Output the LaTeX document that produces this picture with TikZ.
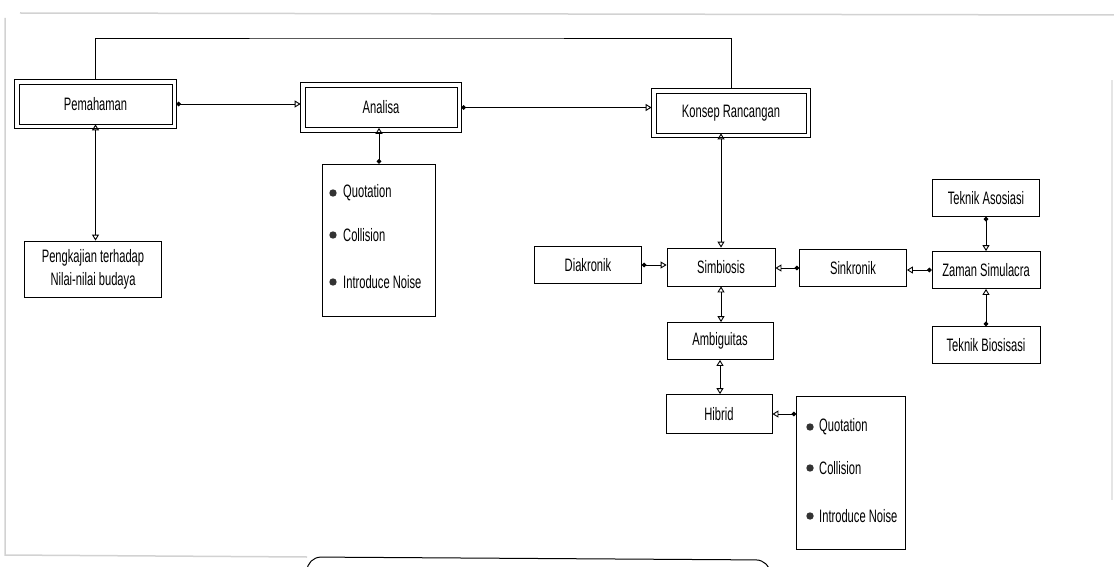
\documentclass[tikz,border=0pt]{standalone}
\usepackage{fontspec}
\setmainfont{Liberation Sans}[FakeStretch=0.62]
\usetikzlibrary{arrows.meta}

\begin{document}
\begin{tikzpicture}[x=1pt, y=-1pt, font=\fontsize{18}{21}\selectfont,
    box/.style={draw, line width=0.8pt, minimum width=107pt, minimum height=37pt, inner sep=2pt},
    dbox/.style={draw, line width=0.7pt, minimum width=152pt, minimum height=40pt},
    listbox/.style={draw, line width=0.8pt, minimum width=113pt, minimum height=152pt},
    item/.style={anchor=west, inner sep=0pt},
    link/.style={line width=0.9pt},
    dotarr/.style={link, {Circle[length=4.5pt]}-{Triangle[open, length=6pt, width=7pt]}},
    dblarr/.style={link, {Triangle[open, length=6pt, width=7pt]}-{Triangle[open, length=6pt, width=7pt]}},
    frame/.style={gray!35, line width=1.5pt}]
    \path[use as bounding box, clip] (0,0) rectangle (1114,567);

    % Page edges
    \draw[frame] (20,13) -- (1114,15);
    \draw[frame] (5,18) -- (5,555) -- (307,557);
    \draw[frame, gray!20] (1112,80) -- (1112,500);

    % Main steps
    \node[dbox, minimum width=153pt] (pem) at (95.5,104) {Pemahaman};
    \node[dbox] (ana) at (381,107.5) {Analisa};
    \node[dbox, minimum width=150pt] (kon) at (731,113) {Konsep Rancangan};
    \foreach \n in {pem,ana,kon}
        \draw[line width=0.7pt] ([xshift=-4pt,yshift=4.5pt]\n.north west) rectangle ([xshift=4pt,yshift=-4.5pt]\n.south east);

    \node[box, minimum width=137pt, minimum height=56pt, align=center,
          font=\fontsize{18}{23}\selectfont] (kaji) at (93,269) {Pengkajian terhadap\\Nilai-nilai budaya};

    % Analisa list
    \node[listbox] (lsa) at (379,240) {};
    \foreach \txt/\y [count=\i] in {Quotation/193, Collision/235, Introduce Noise/282} {
        \node[item] (qa\i) at (343,\y) {\txt};
        \fill[black!80] ([xshift=-10pt]qa\i.west) circle (3.7pt);
    }

    % Konsep branch
    \node[box] (dia) at (588,265) {Diakronik};
    \node[box, minimum width=108pt, minimum height=38pt] (sim) at (721,267) {Simbiosis};
    \node[box] (sin) at (853,268) {Sinkronik};
    \node[box, minimum width=108pt] (zam) at (986,270) {Zaman Simulacra};
    \node[box] (asos) at (986,198) {Teknik Asosiasi};
    \node[box, minimum width=108pt] (bios) at (986,345) {Teknik Biosisasi};
    \node[box, minimum width=106pt] (amb) at (720,341) {Ambiguitas};
    \node[box, minimum width=106pt, minimum height=39pt] (hib) at (719,414) {Hibrid};

    % Hibrid list
    \node[listbox, minimum width=109pt, minimum height=153pt] (lsb) at (851,473) {};
    \foreach \txt/\y [count=\i] in {Quotation/427, Collision/468, Introduce Noise/516} {
        \node[item] (qb\i) at (819,\y) {\txt};
        \fill[black!80] ([xshift=-9pt]qb\i.west) circle (3.7pt);
    }

    % Connectors
    \coordinate (top) at (400,38);
    \draw[link] ([yshift=4.5pt]pem.north) |- (top) -| ([yshift=4.5pt]kon.north);
    \draw[dotarr] ([xshift=4pt]pem.east) -- ([xshift=-4pt]pem.east -| ana.west);
    \draw[dotarr] ([xshift=4pt]ana.east) -- ([xshift=-4pt]ana.east -| kon.west);
    \draw[dblarr] (pem.south) -- (pem.south |- kaji.north);
    \draw[dotarr] (lsa.north) -- (lsa.north |- ana.south);
    \draw[dblarr] (sim.north) -- (sim.north |- kon.south);
    \draw[dotarr] (dia.east) -- (dia.east -| sim.west);
    \draw[dotarr] (sin.west) -- (sin.west -| sim.east);
    \draw[dotarr] (zam.west) -- (zam.west -| sin.east);
    \draw[dotarr] (asos.south) -- (asos.south |- zam.north);
    \draw[dotarr] (bios.north) -- (bios.north |- zam.south);
    \draw[dblarr] (sim.south) -- (sim.south |- amb.north);
    \draw[dblarr] (amb.south) -- (amb.south |- hib.north);
    \draw[dotarr] (hib.east -| lsb.west) -- (hib.east);

    % Caption box (cut off)
    \draw[line width=1pt, rounded corners=14pt] (307,600) -- (307,557) -- (770,560) -- (772,600);
\end{tikzpicture}
\end{document}
